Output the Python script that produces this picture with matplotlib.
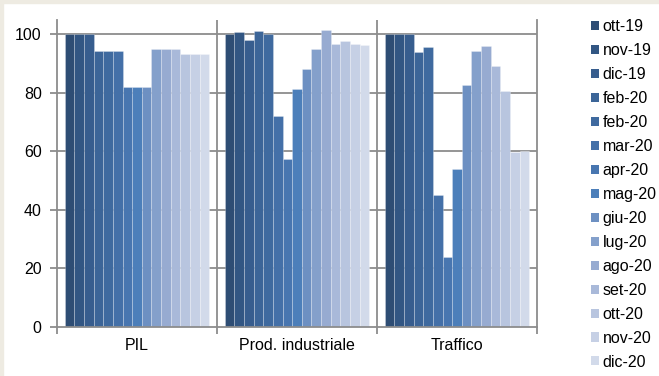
import numpy as np
import matplotlib.pyplot as plt
from matplotlib.patches import Patch, Rectangle

plt.rcParams['font.family'] = ['Liberation Sans', 'DejaVu Sans']

# indici (base = 100) per tre indicatori, un valore per mese
categorie = ['PIL', 'Prod. industriale', 'Traffico']
mesi = ['ott-19', 'nov-19', 'dic-19', 'feb-20', 'feb-20', 'mar-20', 'apr-20',
        'mag-20', 'giu-20', 'lug-20', 'ago-20', 'set-20', 'ott-20', 'nov-20',
        'dic-20']

pil = [100, 100, 100, 94.3, 94.3, 94.3, 82.0, 82.0, 82.0, 95.0, 95.0, 95.0,
       93.2, 93.2, 93.2]
prod_ind = [100.0, 100.7, 98.1, 101.1, 100.0, 71.9, 57.5, 81.4, 88.2, 94.9,
            101.5, 96.5, 97.7, 96.5, 96.3]
traffico = [100, 100, 100, 93.8, 95.6, 44.9, 23.8, 53.8, 82.5, 94.1, 96.0,
            89.2, 80.7, 59.9, 60.1]

colori = ['#2E4D74', '#325683', '#375D8E', '#3C6598', '#3F6A9F', '#4470A8',
          '#4876B0', '#4C7FBA', '#6D90C2', '#84A0CB', '#97ABD1', '#A9B9D9',
          '#B8C5DF', '#C6D0E5', '#D2DAEA']

valori = np.array([pil, prod_ind, traffico])  # righe = categorie

fig = plt.figure(figsize=(6.59, 3.76), dpi=100, facecolor='white')
# cornice beige in alto e a sinistra
fig.patches.append(Rectangle((0, 0), 2.5 / 659, 1, transform=fig.transFigure,
                             color='#EEEBE2', zorder=0))
fig.patches.append(Rectangle((0, 1 - 2.5 / 376), 1, 2.5 / 376, transform=fig.transFigure,
                             color='#EEEBE2', zorder=0))

ax = fig.add_axes([57 / 659, 1 - 327 / 376, 480 / 659, 307 / 376])

grigio = '#8C8C8C'
n = len(mesi)
larghezza = 0.906 / n
x = np.arange(len(categorie))
for i in range(n):
    ax.bar(x - 0.453 + larghezza * (i + 0.5), valori[:, i], width=larghezza,
           color=colori[i], edgecolor=(1, 1, 1, 0.35), linewidth=0.5, zorder=2)

ax.set_xlim(-0.5, len(categorie) - 0.5)
ax.set_ylim(0, 104.8)
ax.set_yticks([0, 20, 40, 60, 80, 100])
for y in [20, 40, 60, 80, 100]:
    ax.axhline(y, color=grigio, linewidth=1.3, zorder=1)
for xb in [0.5, 1.5]:
    ax.axvline(xb, color=grigio, linewidth=1.3, zorder=1)

ax.set_xticks([-0.5, 0.5, 1.5, 2.5])
ax.set_xticklabels([])
ax.set_xticks(x, minor=True)
ax.set_xticklabels(categorie, minor=True)
ax.tick_params(axis='x', which='major', length=5, width=1.3, color=grigio)
ax.tick_params(axis='x', which='minor', length=0, pad=8, labelsize=11.5)
ax.tick_params(axis='y', length=5, width=1.3, color=grigio, labelsize=11.5, pad=6)

for lato in ['left', 'right', 'bottom']:
    ax.spines[lato].set_color(grigio)
    ax.spines[lato].set_linewidth(1.3)
ax.spines['top'].set_visible(False)

maniglie = [Patch(facecolor=c, edgecolor='none') for c in colori]
fig.legend(maniglie, mesi, loc='upper left', bbox_to_anchor=(585 / 659, 1 - 13 / 376),
           frameon=False, fontsize=11.5, handlelength=0.5, handleheight=0.5,
           handletextpad=0.2, labelspacing=0.56, borderaxespad=0)

fig.savefig('out.png', dpi=100, facecolor='white')
